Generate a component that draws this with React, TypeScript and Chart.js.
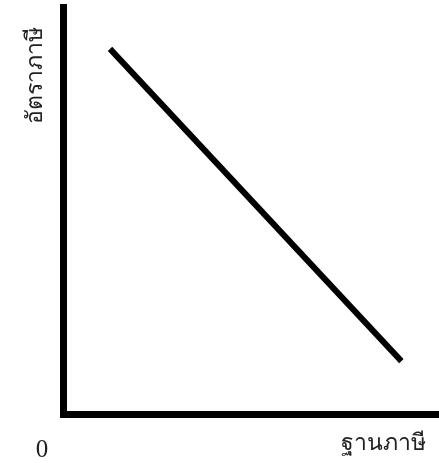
import React, { useEffect, useRef } from "react";
import { Chart, registerables } from "chart.js";

Chart.register(...registerables);

const taxBase: number[] = [12.5, 90];
const taxRate: number[] = [89.7, 13];
const xTitle = "ฐานภาษี";
const yTitle = "อัตราภาษี";
const originLabel = "0";

const labelPlugin = {
  id: "labels",
  afterDraw(chart: any) {
    const { ctx, chartArea } = chart;
    const { left, bottom, right } = chartArea;
    ctx.save();
    ctx.fillStyle = "#222";
    ctx.textBaseline = "alphabetic";
    // origin label
    ctx.font = '25px "Liberation Serif", serif';
    ctx.textAlign = "center";
    ctx.fillText(originLabel, left - 21, bottom + 43);
    // x title
    ctx.font = '23px serif';
    ctx.textAlign = "right";
    ctx.fillText(xTitle, right - 13, bottom + 36);
    // y title
    ctx.translate(left - 21, 124);
    ctx.rotate(-Math.PI / 2);
    ctx.textAlign = "left";
    ctx.fillText(yTitle, 0, 0);
    ctx.restore();
  },
};

export default function App() {
  const ref = useRef<HTMLCanvasElement | null>(null);
  useEffect(() => {
    document.body.style.margin = "0";
    const canvas = ref.current!;
    const chart = new Chart(canvas, {
      type: "scatter",
      data: {
        datasets: [
          {
            data: taxBase.map((x, i) => ({ x, y: taxRate[i] })),
            showLine: true,
            borderColor: "#000",
            borderWidth: 6,
            pointRadius: 0,
            fill: false,
          },
        ],
      },
      options: {
        responsive: false,
        animation: false,
        layout: { padding: { top: 7, right: 0, left: 0, bottom: 0 } },
        plugins: { legend: { display: false }, tooltip: { enabled: false } },
        scales: {
          x: {
            type: "linear",
            min: 0,
            max: 100,
            grid: { display: false },
            ticks: { display: false },
            border: { display: true, color: "#000", width: 7 },
            afterFit: (s: any) => {
              s.height = 49;
            },
          },
          y: {
            type: "linear",
            min: 0,
            max: 100,
            grid: { display: false },
            ticks: { display: false },
            border: { display: true, color: "#000", width: 7 },
            afterFit: (s: any) => {
              s.width = 63;
            },
          },
        },
      },
      plugins: [labelPlugin],
    });
    return () => chart.destroy();
  }, []);
  return (
    <div style={{ width: 439, height: 463, background: "#fff" }}>
      <canvas ref={ref} width={439} height={463} />
    </div>
  );
}
